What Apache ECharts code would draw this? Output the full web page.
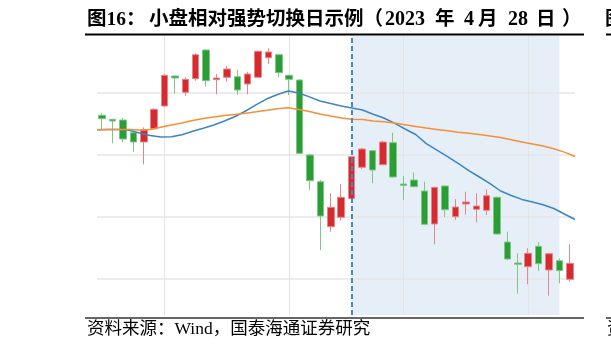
<!DOCTYPE html>
<html>
<head>
<meta charset="utf-8">
<title>小盘相对强势切换日示例</title>
<script src="https://cdn.jsdelivr.net/npm/echarts@6/dist/echarts.min.js"></script>
<style>
  html, body { margin: 0; padding: 0; background: #fff; }
  #chart { width: 611px; height: 350px; }
</style>
</head>
<body>
<div id="chart"></div>
<script>
// 交易日（横轴不显示标签）
const days = [
  '2023-03-24', '2023-03-27', '2023-03-28', '2023-03-29', '2023-03-30', '2023-03-31',
  '2023-04-03', '2023-04-04', '2023-04-06', '2023-04-07', '2023-04-10', '2023-04-11',
  '2023-04-12', '2023-04-13', '2023-04-14', '2023-04-17', '2023-04-18', '2023-04-19',
  '2023-04-20', '2023-04-21', '2023-04-24', '2023-04-25', '2023-04-26', '2023-04-27',
  '2023-04-28', '2023-05-04', '2023-05-05', '2023-05-08', '2023-05-09', '2023-05-10',
  '2023-05-11', '2023-05-12', '2023-05-15', '2023-05-16', '2023-05-17', '2023-05-18',
  '2023-05-19', '2023-05-22', '2023-05-23', '2023-05-24', '2023-05-25', '2023-05-26',
  '2023-05-29', '2023-05-30', '2023-05-31', '2023-06-01'
]

// K线：[开, 收, 低, 高]（纵轴刻度未标注，数值为读图估计）
const kline = [
  [907.7, 904.3, 893.7, 910.3], [903.7, 902.0, 879.7, 903.7], [903.0, 884.0, 881.0, 905.0],
  [890.3, 881.0, 871.3, 892.3], [881.0, 893.0, 858.7, 895.7], [894.3, 913.7, 893.7, 914.7],
  [917.0, 947.7, 916.3, 948.7], [947.0, 945.0, 929.7, 947.5], [930.7, 943.7, 927.3, 945.7],
  [944.3, 968.3, 942.3, 969.7], [973.0, 942.3, 936.3, 973.7], [943.3, 945.0, 928.7, 949.0],
  [945.7, 954.0, 941.3, 957.0], [946.3, 933.0, 928.0, 953.0], [939.0, 949.0, 928.7, 951.3],
  [945.7, 971.7, 945.0, 972.5], [965.3, 971.0, 959.0, 974.7], [968.3, 950.3, 945.7, 969.0],
  [947.7, 943.7, 928.0, 948.3], [943.0, 869.7, 869.0, 943.7], [868.0, 842.3, 833.0, 869.0],
  [841.3, 807.0, 773.0, 843.0], [796.3, 815.7, 791.3, 829.7], [805.7, 825.7, 802.3, 839.0],
  [824.3, 866.3, 823.5, 867.0], [855.7, 874.0, 854.0, 875.0], [872.3, 853.0, 839.7, 873.0],
  [858.3, 881.0, 857.7, 882.3], [880.3, 846.0, 845.3, 890.3], [839.0, 837.7, 823.0, 847.0],
  [843.0, 836.3, 835.7, 850.7], [832.0, 798.7, 798.2, 841.3], [799.0, 835.7, 778.7, 836.3],
  [837.0, 813.3, 806.0, 837.5], [806.3, 816.0, 803.0, 824.0], [819.0, 821.0, 808.3, 831.3],
  [813.7, 817.0, 800.7, 829.7], [812.7, 827.3, 808.0, 833.7], [825.7, 789.0, 788.5, 826.5],
  [781.0, 764.0, 762.7, 791.3], [760.0, 758.7, 729.3, 769.7], [756.3, 769.7, 738.7, 774.7],
  [776.7, 759.3, 752.3, 780.7], [753.0, 769.3, 727.3, 770.0], [762.3, 752.3, 739.7, 764.7],
  [743.7, 759.7, 741.3, 778.7]
]

// 短期均线（蓝）
const maShort = [
  893.2, 893.4, 893.6, 892.8, 890.0, 887.4, 886.0, 886.2, 888.2, 891.7,
  894.8, 898.0, 902.0, 906.5, 912.0, 918.3, 924.2, 928.5, 932.0, 930.0,
  926.1, 922.0, 919.5, 917.0, 915.1, 913.0, 908.7, 905.0, 899.8, 894.0,
  888.5, 879.4, 872.9, 866.3, 859.6, 852.4, 846.0, 839.3, 832.0, 827.5,
  823.6, 821.1, 818.3, 814.5, 809.0, 803.5
]

// 长期均线（橙）
const maLong = [
  893.3, 893.5, 893.6, 893.4, 893.1, 893.5, 895.8, 898.0, 900.1, 902.4,
  904.5, 906.0, 907.4, 908.5, 909.8, 911.2, 912.7, 914.3, 915.2, 913.6,
  911.5, 909.0, 907.0, 905.1, 903.7, 903.4, 902.1, 901.2, 900.0, 898.3,
  896.6, 894.9, 893.5, 892.2, 890.8, 889.8, 888.5, 887.1, 885.5, 883.2,
  881.0, 879.0, 877.0, 874.2, 870.9, 866.5
]

// 网格线位置
const gridRows = [744, 806, 868, 930]
const gridCols = ['2023-04-03', '2023-04-20', '2023-05-10', '2023-05-26']
const switchDay = '2023-04-28'
const shadeEnd = '2023-05-31'

const sourceText = '资料来源：Wind，国泰海通证券研究'

const titleFont = 'bold 19.5px "Liberation Serif", "Noto Sans CJK SC"'
const numFont = 'bold 20px "Liberation Serif", "Noto Sans CJK SC"'

// 标题分段摆放，模仿原图的字距
function titlePiece(text, x, font) {
  return { type: 'text', left: x, top: 10, style: { text: text, font: font || titleFont, fill: '#000' } }
}

const myChart = echarts.init(document.getElementById('chart'))

myChart.setOption({
  animation: false,
  grid: { left: 97, right: 36, top: 36, bottom: 35 },
  xAxis: [
    { type: 'category', data: days, boundaryGap: true, show: false },
    { type: 'category', data: days, boundaryGap: false, show: false }
  ],
  yAxis: { type: 'value', min: 708, max: 987, show: false, splitLine: { show: false } },
  series: [
    {
      type: 'candlestick',
      data: kline,
      barWidth: 7,
      itemStyle: {
        color: '#d62a2f',
        color0: '#2a9d34',
        borderColor: '#e5878a',
        borderColor0: '#80c685',
        borderWidth: 1
      },
      // 5月区间底色
      markArea: {
        silent: true,
        itemStyle: { color: '#e6eff7' },
        data: [[{ xAxis: switchDay }, { xAxis: shadeEnd }]]
      },
      // 网格线
      markLine: {
        silent: true,
        z: 1,
        symbol: 'none',
        label: { show: false },
        lineStyle: { color: '#e6e6e6', width: 1.5, type: 'solid' },
        data: gridRows.map(v => ({ yAxis: v })).concat(
          gridCols.map(d => ({ xAxis: d, lineStyle: { color: '#e4e4e4', width: 1, type: 'solid' } }))
        )
      }
    },
    {
      type: 'line',
      xAxisIndex: 1,
      data: maShort,
      symbol: 'none',
      lineStyle: { color: '#3b86c2', width: 1.5 }
    },
    {
      type: 'line',
      xAxisIndex: 1,
      data: maLong,
      symbol: 'none',
      lineStyle: { color: '#f78f35', width: 1.5 },
      // 切换日虚线
      markLine: {
        silent: true,
        symbol: 'none',
        label: { show: false },
        lineStyle: { color: '#3d8ac6', width: 2, type: [5, 3] },
        data: [{ xAxis: 24 }]
      }
    }
  ],
  graphic: [
    titlePiece('图16：', 87),
    titlePiece('小盘相对强势切换日示例（', 149),
    titlePiece('2023', 385, numFont),
    titlePiece('年', 435),
    titlePiece('4', 464, numFont),
    titlePiece('月', 478),
    titlePiece('28', 508, numFont),
    titlePiece('日', 536),
    titlePiece('）', 562),
    { type: 'line', shape: { x1: 85, y1: 34.5, x2: 584, y2: 34.5 }, style: { stroke: '#000', lineWidth: 2 } },
    titlePiece('图17', 605),
    { type: 'line', shape: { x1: 606, y1: 34.5, x2: 611, y2: 34.5 }, style: { stroke: '#000', lineWidth: 2 } },
    { type: 'line', shape: { x1: 85, y1: 318, x2: 584, y2: 318 }, style: { stroke: '#666', lineWidth: 2 } },
    { type: 'line', shape: { x1: 606, y1: 318, x2: 611, y2: 318 }, style: { stroke: '#666', lineWidth: 2 } },
    {
      type: 'text', left: 87, top: 321,
      style: { text: sourceText, font: '17.5px "Liberation Serif", "Noto Sans CJK SC"', fill: '#000' }
    },
    {
      type: 'text', left: 607, top: 321,
      style: { text: '资料', font: '17.5px "Liberation Serif", "Noto Sans CJK SC"', fill: '#000' }
    }
  ]
})
</script>
</body>
</html>
